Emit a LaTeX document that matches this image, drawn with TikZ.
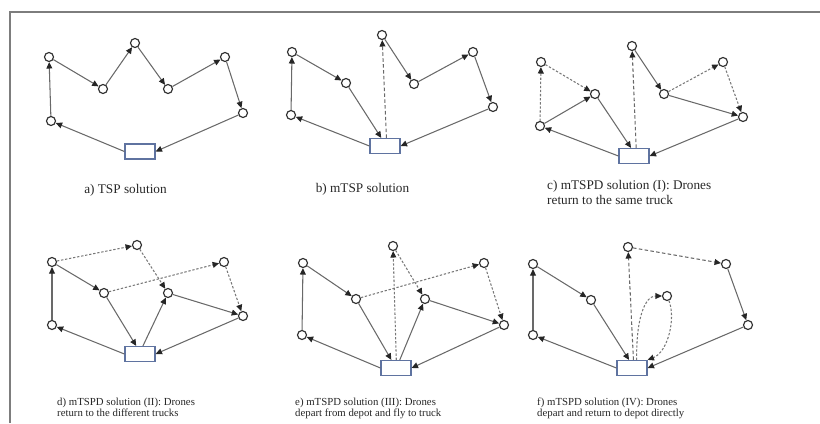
\documentclass[tikz,border=0pt]{standalone}
\usepackage{fontspec}
\setmainfont{Liberation Serif}
\usepackage{tikz}
\usetikzlibrary{arrows.meta}
\definecolor{EdgeGray}{RGB}{105,105,105}
\definecolor{DroneGray}{RGB}{120,120,120}
\definecolor{DepotBlue}{RGB}{95,115,160}
\definecolor{FrameGray}{RGB}{125,125,125}

\tikzset{
	stop/.style={circle, draw=black!80, line width=1pt, fill=white, minimum size=0.27cm, inner sep=0pt},
	depot/.style={rectangle, draw=DepotBlue, line width=1pt, fill=white, minimum width=0.9cm, minimum height=0.45cm, inner sep=0pt},
	truck/.style={draw=EdgeGray, line width=0.9pt, -{Triangle[length=5.5pt,width=5pt,color=black!85]}},
	launch/.style={truck, densely dashed},
	drone/.style={truck, draw=DroneGray, dash pattern=on 2pt off 1.5pt},
	captop/.style={font=\fontsize{11.3}{12.8}\selectfont, text=black!85, align=left, inner sep=0pt},
	capbot/.style={font=\fontsize{9.2}{9.8}\selectfont, text=black!85, align=left, inner sep=0pt}
}

\begin{document}
\begin{tikzpicture}[x=0.03cm, y=-0.03cm]
		\useasboundingbox (0,0) rectangle (820,423);
		\draw[FrameGray, line width=1.2pt] (10,423) -- (10,12) -- (820,12);
		% a) TSP
		\node[depot] (adep) at (140,151.5) {};
		\node[stop] (a1) at (51,121) {};  \node[stop] (a2) at (49,57) {};
		\node[stop] (a3) at (103,89) {};  \node[stop] (a4) at (135,43) {};
		\node[stop] (a5) at (168,89) {};  \node[stop] (a6) at (225,57) {};
		\node[stop] (a7) at (243,113) {};
		\draw[truck] (adep.west) -- (a1);
		\draw[truck] (a1) -- (a2);
		\draw[truck] (a2) -- (a3);
		\draw[truck] (a3) -- (a4);
		\draw[truck] (a4) -- (a5);
		\draw[truck] (a5) -- (a6);
		\draw[truck] (a6) -- (a7);
		\draw[truck] (a7) -- (adep.east);
		\node[captop, anchor=center] (acap) at (125.5,190) {a) TSP solution};
		% b) mTSP
		\node[depot] (bdep) at (385,146) {};
		\node[stop] (b1) at (291,115) {}; \node[stop] (b2) at (292,52) {};
		\node[stop] (b3) at (346,83) {};  \node[stop] (b4) at (382,35) {};
		\node[stop] (b5) at (414,84) {};  \node[stop] (b6) at (473,52) {};
		\node[stop] (b7) at (493,107) {};
		\draw[truck] (bdep.west) -- (b1);
		\draw[truck] (b1) -- (b2);
		\draw[truck] (b2) -- (b3);
		\draw[truck] (b3) -- (bdep.115);
		\draw[launch] (bdep.80) -- (b4);
		\draw[truck] (b4) -- (b5);
		\draw[truck] (b5) -- (b6);
		\draw[truck] (b6) -- (b7);
		\draw[truck] (b7) -- (bdep.east);
		\node[captop, anchor=center] (bcap) at (362.5,189) {b) mTSP solution};
		% c) mTSPD (I)
		\node[depot] (cdep) at (634,156) {};
		\node[stop] (c1) at (540,126) {}; \node[stop] (c2) at (541,62) {};
		\node[stop] (c3) at (595,94) {};  \node[stop] (c4) at (632,46) {};
		\node[stop] (c5) at (664,94) {};  \node[stop] (c6) at (723,62) {};
		\node[stop] (c7) at (743,117) {};
		\draw[truck] (cdep.west) -- (c1);
		\draw[drone] (c1) -- (c2);
		\draw[drone] (c2) -- (c3);
		\draw[truck] (c1) -- (c3);
		\draw[truck] (c3) -- (cdep.110);
		\draw[launch] (cdep.75) -- (c4);
		\draw[truck] (c4) -- (c5);
		\draw[drone] (c5) -- (c6);
		\draw[drone] (c6) -- (c7);
		\draw[truck] (c5) -- (c7);
		\draw[truck] (c7) -- (cdep.east);
		\node[captop, anchor=west] (ccap) at (547,192.5) {c) mTSPD solution (I): Drones\\return to the same truck};
		% d) mTSPD (II)
		\node[depot] (ddep) at (140,354) {};
		\node[stop] (d1) at (52,325) {};  \node[stop] (d2) at (52,262) {};
		\node[stop] (d3) at (104,293) {}; \node[stop] (d4) at (137,245) {};
		\node[stop] (d5) at (168,293) {}; \node[stop] (d6) at (224,262) {};
		\node[stop] (d7) at (243,316) {};
		\draw[truck] (ddep.west) -- (d1);
		\draw[truck] (d1) -- (d2);
		\draw[drone] (d2) -- (d4);
		\draw[drone] (d4) -- (d5);
		\draw[truck] (d2) -- (d3);
		\draw[drone] (d3) -- (d6);
		\draw[drone] (d6) -- (d7);
		\draw[truck] (d3) -- (ddep.115);
		\draw[truck] (ddep.70) -- (d5);
		\draw[truck] (d5) -- (d7);
		\draw[truck] (d7) -- (ddep.east);
		\node[capbot, anchor=west] (dcap) at (57,407.5) {d) mTSPD solution (II): Drones\\return to the different trucks};
		% e) mTSPD (III)
		\node[depot] (edep) at (396,368) {};
		\node[stop] (e1) at (302,335) {}; \node[stop] (e2) at (303,263) {};
		\node[stop] (e3) at (356,299) {}; \node[stop] (e4) at (393,246) {};
		\node[stop] (e5) at (425,299) {}; \node[stop] (e6) at (484,263) {};
		\node[stop] (e7) at (504,325) {};
		\draw[truck] (edep.west) -- (e1);
		\draw[truck] (e1) -- (e2);
		\draw[truck] (e2) -- (e3);
		\draw[truck] (e3) -- (edep.120);
		\draw[drone] (edep.88) -- (e4);
		\draw[drone] (e4) -- (e5);
		\draw[truck] (edep.65) -- (e5);
		\draw[drone] (e3) -- (e6);
		\draw[drone] (e6) -- (e7);
		\draw[truck] (e5) -- (e7);
		\draw[truck] (e7) -- (edep.east);
		\node[capbot, anchor=west] (ecap) at (295,408.5) {e) mTSPD solution (III): Drones\\depart from depot and fly to truck};
		% f) mTSPD (IV)
		\node[depot] (fdep) at (632,368) {};
		\node[stop] (f1) at (533,335) {}; \node[stop] (f2) at (533,264) {};
		\node[stop] (f3) at (591,300) {}; \node[stop] (f4) at (628,247) {};
		\node[stop] (f5) at (667,296) {}; \node[stop] (f6) at (726,264) {};
		\node[stop] (f7) at (748,325) {};
		\draw[truck] (fdep.west) -- (f1);
		\draw[truck] (f1) -- (f2);
		\draw[truck] (f2) -- (f3);
		\draw[truck] (f3) -- (fdep.110);
		\draw[launch] (fdep.80) -- (f4);
		\draw[launch] (f4) -- (f6);
		\draw[truck] (f6) -- (f7);
		\draw[truck] (f7) -- (fdep.east);
		\draw[drone] (fdep.60) .. controls (636,318) and (645,296) .. (f5);
		\draw[drone] (f5) .. controls (676,318) and (668,352) .. (fdep.north east);
		\node[capbot, anchor=west] (fcap) at (537,408.5) {f) mTSPD solution (IV): Drones\\depart and return to depot directly};
	\end{tikzpicture}
\end{document}
